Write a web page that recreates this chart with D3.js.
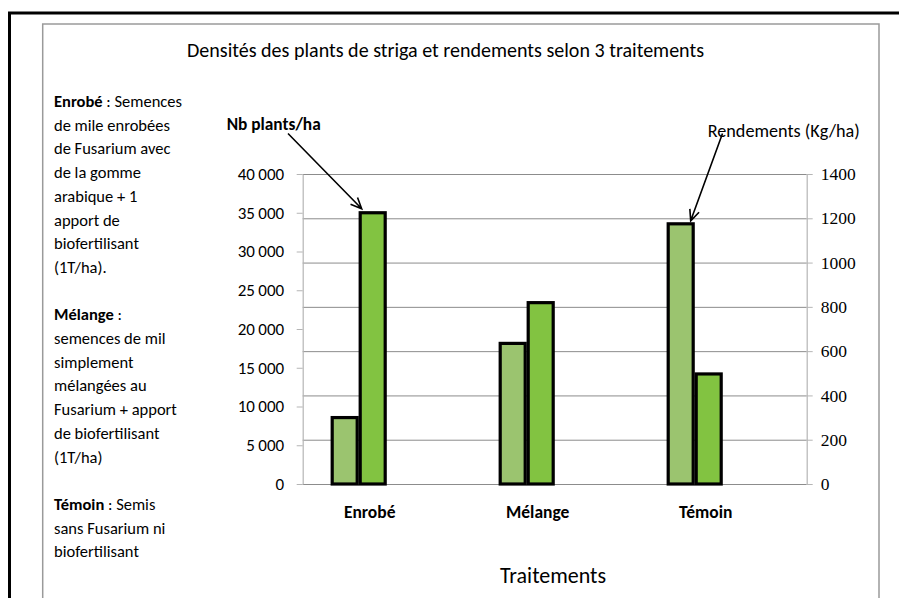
<!DOCTYPE html>
<html>
<head>
<meta charset="utf-8">
<script src="https://cdn.jsdelivr.net/npm/d3@7/dist/d3.min.js"></script>
<style>
  html, body { margin: 0; padding: 0; background: #fff; }
  svg { display: block; }
  svg text { fill: #000; }
  .serif text { font-family: "Liberation Serif", "DejaVu Serif", serif !important; }
</style>
</head>
<body>
<svg id="chart" width="899" height="598" font-family="Carlito, Calibri, Lato, sans-serif"></svg>
<script>
// ---- Data ----
const categories = ["Enrobé", "Mélange", "Témoin"];
const rendements = [300, 635, 1175];        // Rendements (Kg/ha) – light green, right axis
const nbPlants = [35000, 23400, 14200];     // Nb plants/ha – green, left axis
const leftTicks = [0, 5000, 10000, 15000, 20000, 25000, 30000, 35000, 40000];
const rightTicks = [0, 200, 400, 600, 800, 1000, 1200, 1400];
const title = "Densités des plants de striga et rendements selon 3 traitements";
const xTitle = "Traitements";
const leftLabel = "Nb plants/ha";
const rightLabel = "Rendements (Kg/ha)";
const notes = [
  [["Enrobé", true], [" : Semences", false]],
  [["de mile  enrobées", false]],
  [["de Fusarium avec", false]],
  [["de la gomme", false]],
  [["arabique + 1", false]],
  [["apport de", false]],
  [["biofertilisant", false]],
  [["(1T/ha).", false]],
  [],
  [["Mélange", true], [" :", false]],
  [["semences de mil", false]],
  [["simplement", false]],
  [["mélangées au", false]],
  [["Fusarium + apport", false]],
  [["de biofertilisant", false]],
  [["(1T/ha)", false]],
  [],
  [["Témoin", true], [" : Semis", false]],
  [["sans Fusarium ni", false]],
  [["biofertilisant", false]]
];

// ---- Layout ----
const sansFont = "Carlito, Calibri, Lato, sans-serif";
const svg = d3.select("#chart");
const plot = { left: 302.7, right: 806.7, top: 174, bottom: 484 };

const x = d3.scaleBand().domain(categories).range([plot.left, plot.right]);
const yL = d3.scaleLinear().domain([0, 40000]).range([plot.bottom, plot.top]);
const yR = d3.scaleLinear().domain([0, 1400]).range([plot.bottom, plot.top]);
const bw = x.bandwidth();

// Borders
svg.append("rect").attr("x", 42.7).attr("y", 24).attr("width", 879 - 42.7).attr("height", 620)
  .attr("fill", "none").attr("stroke", "#9a9a9a").attr("stroke-width", 1.5);
svg.append("path").attr("d", "M9.5,600 L9.5,13 L905,13")
  .attr("fill", "none").attr("stroke", "#000").attr("stroke-width", 3);

// Title
svg.append("text").attr("x", 445.5).attr("y", 57).attr("text-anchor", "middle")
  .style("font-family", sansFont).attr("font-size", 20)
  .attr("textLength", 517).attr("lengthAdjust", "spacingAndGlyphs")
  .text(title);

// Gridlines (at right-axis ticks)
svg.append("g").selectAll("line").data(rightTicks).join("line")
  .attr("x1", plot.left).attr("x2", plot.right)
  .attr("y1", d => yR(d) + 0.5).attr("y2", d => yR(d) + 0.5)
  .attr("stroke", "#8c8c8c").attr("stroke-width", 1);

// Left axis
const fmt = d3.formatLocale({ decimal: ",", thousands: "\u2009", grouping: [3], currency: ["", ""] }).format(",d");
const gL = svg.append("g").attr("transform", `translate(${plot.left},0)`)
  .call(d3.axisLeft(yL).tickValues(leftTicks).tickSize(6).tickSizeOuter(0).tickPadding(12.5).tickFormat(fmt));
gL.select(".domain").attr("stroke", "#b5b5b5").attr("stroke-width", 1.2);
gL.selectAll(".tick line").attr("stroke", "#b5b5b5");
gL.selectAll(".tick text").style("font-family", sansFont)
  .attr("font-size", 17).attr("fill", "#000");

// Right axis
const gR = svg.append("g").attr("class", "serif").attr("transform", `translate(${plot.right},0)`)
  .call(d3.axisRight(yR).tickValues(rightTicks).tickSize(6).tickSizeOuter(0).tickPadding(8).tickFormat(d3.format("d")));
gR.attr("font-family", "Liberation Serif, serif");
gR.select(".domain").attr("stroke", "#b5b5b5").attr("stroke-width", 1.2);
gR.selectAll(".tick line").attr("stroke", "#b5b5b5");
gR.selectAll(".tick text").attr("font-size", 17.5).attr("fill", "#000");

// Bars
const bars = svg.append("g");
bars.selectAll("rect.light").data(categories).join("rect").attr("class", "light")
  .attr("x", d => x(d) + bw / 6 + 1.5).attr("width", bw / 6 - 3)
  .attr("y", (d, i) => yR(rendements[i])).attr("height", (d, i) => plot.bottom - yR(rendements[i]))
  .attr("fill", "#9bc46f").attr("stroke", "#000").attr("stroke-width", 3.2);
bars.selectAll("rect.dark").data(categories).join("rect").attr("class", "dark")
  .attr("x", d => x(d) + bw / 3 + 1.5).attr("width", bw / 6 - 3)
  .attr("y", (d, i) => yL(nbPlants[i])).attr("height", (d, i) => plot.bottom - yL(nbPlants[i]))
  .attr("fill", "#82c341").attr("stroke", "#000").attr("stroke-width", 3.2);

// Category labels
svg.append("g").selectAll("text").data(categories).join("text")
  .attr("x", d => x(d) + bw / 2 - 17).attr("y", 518)
  .attr("text-anchor", "middle").style("font-family", sansFont)
  .attr("font-size", 17.5).attr("font-weight", "bold")
  .text(d => d);

// X axis title
svg.append("text").attr("x", 553).attr("y", 583).attr("text-anchor", "middle")
  .style("font-family", sansFont).attr("font-size", 22)
  .attr("textLength", 106).attr("lengthAdjust", "spacingAndGlyphs")
  .text(xTitle);

// Series labels
svg.append("text").attr("x", 226.7).attr("y", 130).style("font-family", sansFont)
  .attr("font-size", 17).attr("font-weight", "bold")
  .attr("textLength", 94).attr("lengthAdjust", "spacingAndGlyphs").text(leftLabel);
svg.append("text").attr("x", 707.7).attr("y", 137).style("font-family", sansFont)
  .attr("font-size", 18.5)
  .attr("textLength", 152).attr("lengthAdjust", "spacingAndGlyphs").text(rightLabel);

// Arrows
function arrow(x0, y0, x1, y1) {
  const a = Math.atan2(y1 - y0, x1 - x0), L = 12, s = 0.42;
  const p1 = [x1 - L * Math.cos(a - s), y1 - L * Math.sin(a - s)];
  const p2 = [x1 - L * Math.cos(a + s), y1 - L * Math.sin(a + s)];
  svg.append("path")
    .attr("d", `M${x0},${y0}L${x1},${y1}M${p1[0]},${p1[1]}L${x1},${y1}L${p2[0]},${p2[1]}`)
    .attr("fill", "none").attr("stroke", "#000").attr("stroke-width", 1.6);
}
arrow(288, 133.5, x(categories[0]) + bw / 3 + 3, yL(nbPlants[0]) - 4);
arrow(722.5, 133.5, x(categories[2]) + bw / 3 - 4, yR(rendements[2]) - 3);

// Notes text block
const notesG = svg.append("g");
notes.forEach((line, i) => {
  if (!line.length) return;
  const t = notesG.append("text").attr("x", 54).attr("y", 107 + i * 23.7)
    .style("font-family", sansFont).attr("font-size", 16.5);
  line.forEach(([s, b]) => t.append("tspan").attr("font-weight", b ? "bold" : "normal").text(s));
});
</script>
</body>
</html>
